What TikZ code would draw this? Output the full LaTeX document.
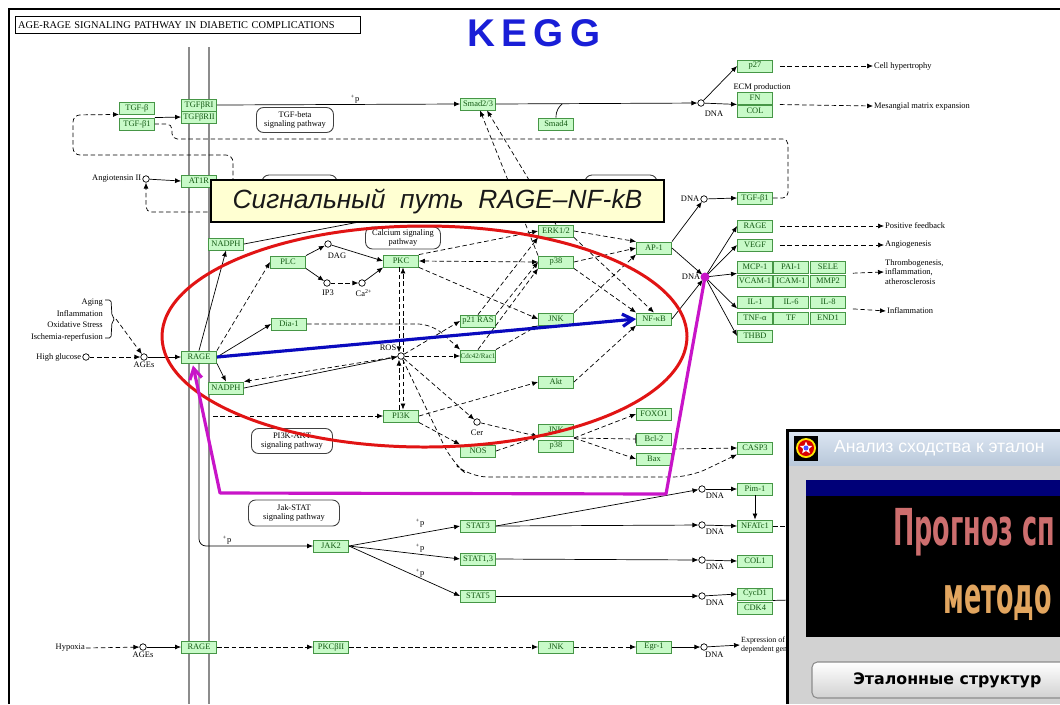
\documentclass[tikz,border=0pt]{standalone}
\usepackage{fontspec}
\setmainfont{Liberation Serif}
\newfontfamily\headfont{Liberation Sans}
\newfontfamily\winfont{DejaVu Sans}
\usetikzlibrary{arrows.meta,calc,shapes.geometric}

\definecolor{genegreen}{RGB}{70,150,70}
\definecolor{genefill}{RGB}{200,250,200}
\definecolor{genetext}{RGB}{20,90,20}
\definecolor{keggblue}{RGB}{25,30,215}
\definecolor{bannerfill}{RGB}{255,255,210}
\definecolor{ovalred}{RGB}{225,20,20}
\definecolor{pathblue}{RGB}{10,10,190}
\definecolor{pathmag}{RGB}{200,20,200}
\definecolor{winbody}{RGB}{210,210,210}
\definecolor{winnavy}{RGB}{0,0,120}
\definecolor{progred}{RGB}{205,110,110}
\definecolor{progold}{RGB}{225,165,95}

\newcommand{\keggfont}{\fontsize{4.8}{5.4}\selectfont}

\tikzset{
  gene/.style={draw=genegreen, fill=genefill, text=genetext, font=\keggfont, minimum width=0.7cm, minimum height=0.24cm, inner sep=0pt, line width=0.5pt},
  cpd/.style={circle, draw, fill=white, minimum size=0.13cm, inner sep=0pt, line width=0.4pt},
  lbl/.style={font=\keggfont, inner sep=0.5pt},
  pway/.style={draw=black!75, rounded corners=4pt, align=center, font=\keggfont, inner sep=1pt, line width=0.5pt},
  act/.style={-{Latex[length=3.4pt,width=2.8pt]}, line width=0.4pt},
  dact/.style={act, dash pattern=on 2.6pt off 1.6pt},
  bact/.style={{Latex[length=3.4pt,width=2.8pt]}-{Latex[length=3.4pt,width=2.8pt]}, line width=0.4pt, dash pattern=on 2.6pt off 1.6pt},
  dline/.style={line width=0.4pt, dash pattern=on 2.6pt off 1.6pt},
  inh/.style={-{Bar[width=5pt]}, line width=0.4pt, dash pattern=on 2.6pt off 1.6pt},
  membrane/.style={line width=1.7pt, draw=black!45},
}

\begin{document}
\begin{tikzpicture}[x=0.02cm, y=-0.02cm]
\clip (0,0) rectangle (1060,704);
\fill[white] (0,0) rectangle (1060,704);

% Frame, title
\draw[line width=1.2pt] (9,704) -- (9,9) -- (1060,9);
\node[draw, line width=0.7pt, text width=6.8cm, align=left, minimum height=0.34cm, inner sep=1.5pt, font=\fontsize{5.9}{6.5}\selectfont] (title) at (188,25) {AGE-RAGE SIGNALING PATHWAY IN DIABETIC COMPLICATIONS};
\node[font={\headfont\bfseries\fontsize{22}{24}\selectfont}, text=keggblue] (kegg) at (534,33) {K\,E\,G\,G};

% Membrane
\draw[membrane] (189,47) -- (189,704);
\draw[membrane] (209,47) -- (209,704);

% Pathway maps
\node[pway, minimum width=1.54cm, minimum height=0.5cm] (tgfpw) at (295,120) {TGF-beta\\signaling pathway};
\node[pway, minimum width=1.5cm, minimum height=0.44cm] (capw) at (403,238) {Calcium signaling\\pathway};
\node[pway, minimum width=1.62cm, minimum height=0.5cm] (pikpw) at (292,441) {PI3K-AKT\\signaling pathway};
\node[pway, minimum width=1.82cm, minimum height=0.52cm] (jakpw) at (294,513) {Jak-STAT\\signaling pathway};
\draw[draw=black!75, rounded corners=4pt, line width=0.5pt] (262,175) rectangle (337,205);
\draw[draw=black!75, rounded corners=4pt, line width=0.5pt] (585,175) rectangle (657,205);

% Genes
\foreach \gname/\gx/\gy/\gtext in {
  tgfb/137/108/TGF-β, tgfb1/137/124/TGF-β1, tgfbr1/199/105/TGFβRI, tgfbr2/199/117/TGFβRII,
  smad23/478/104/{Smad2/3}, smad4/556/124/Smad4, p27/755/66/p27, fn/755/98/FN, col/755/111/COL,
  at1r/199/181/AT1R, tgfb1r/755/198/TGF-β1, nadphA/226/244/NADPH, plc/288/262/PLC,
  pkc/401/261/PKC, erk/556/231/{ERK1/2}, ap1/654/248/AP-1, p38/556/262/p38,
  dia1/289/324/Dia-1, ras/478/321/p21 RAS, jnk/556/319/JNK, nfkb/654/319/NF-κB,
  rage/199/357/RAGE, nadphB/226/388/NADPH, akt/556/382/Akt, pi3k/401/416/PI3K,
  foxo1/654/414/FOXO1, bcl2/654/439/Bcl-2, bax/654/459/Bax, jnkB/556/430/JNK,
  p38B/556/446/p38, nos/478/451/NOS, casp3/755/448/CASP3, rageR/755/226/RAGE,
  vegf/755/245/VEGF, thbd/755/336/THBD, pim1/755/489/Pim-1, nfatc1/755/526/NFATc1,
  col1/755/561/COL1, cycd1/755/594/CycD1, cdk4/755/608/CDK4, jak2/331/546/JAK2,
  stat3/478/526/STAT3, stat13/478/559/{STAT1,3}, stat5/478/596/STAT5,
  rageC/199/647/RAGE, pkcb/331/647/PKCβII, jnkC/556/647/JNK, egr1/654/647/Egr-1} {
  \node[gene] (\gname) at (\gx,\gy) {\gtext};
}
\node[gene] (cdc42) at (478,356) {\fontsize{4}{4.5}\selectfont Cdc42/Rac1};
% Gene grid
\foreach \gname/\gx/\gy/\gtext in {
  mcp1/755/267/MCP-1, pai1/791/267/PAI-1, sele/828/267/SELE,
  vcam1/755/281/VCAM-1, icam1/791/281/ICAM-1, mmp2/828/281/MMP2,
  il1/755/302/IL-1, il6/791/302/IL-6, il8/828/302/IL-8,
  tnfa/755/318/TNF-α, tf/791/318/TF, end1/828/318/END1} {
  \node[gene] (\gname) at (\gx,\gy) {\gtext};
}

% Compounds
\foreach \gname/\gx/\gy in {angII/146/179, hglu/86/357, ages/144/357, dag/328/244, ip3/327/283,
  ca/362/283, ros/401/356, cer/477/422, dnaA/701/103, dnaB/704/199, dnaC/705/277,
  dnaD/702/489, dnaE/702/525, dnaF/702/560, dnaG/702/596, dnaH/704/647, agesB/143/647} {
  \node[cpd] (\gname) at (\gx,\gy) {};
}

% Labels
\node[lbl, left] (angl) at (angII.west) {Angiotensin II};
\node[lbl, left] (hgl) at (hglu.west) {High glucose};
\node[lbl, below] (agesl) at (ages.south) {AGEs};
\node[lbl, anchor=east] (hypl) at (86,648) {Hypoxia};
\node[lbl, below] (agesBl) at (agesB.south) {AGEs};
\node[lbl, anchor=east, align=right, font={\fontsize{4.8}{6.6}\selectfont}] (stress) at (104,320) {Aging\\Inflammation\\Oxidative Stress\\Ischemia-reperfusion};
\node[lbl] (dagl) at (337,256) {DAG};
\node[lbl] (ip3l) at (328,293) {IP3};
\node[lbl] (cal) at (364,293) {Ca\textsuperscript{2+}};
\node[lbl] (rosl) at (388,348) {ROS};
\node[lbl] (cerl) at (477,433) {Cer};
\node[lbl] (ecm) at (762,87) {ECM production};
\node[lbl] (dlA) at (714,114) {DNA};
\node[lbl, left] (dlB) at (dnaB.west) {DNA};
\node[lbl, left] (dlC) at (dnaC.west) {DNA};
\foreach \d in {D,E,F,G} {
  \node[lbl, anchor=north west] (dl\d) at (dna\d.south east) {DNA};
}
\node[lbl, anchor=north west] (dlH) at (dnaH.south) {DNA};
\node[lbl, anchor=west] (hyper) at (873,66) {Cell hypertrophy};
\node[lbl, anchor=west] (mesang) at (873,106) {Mesangial matrix expansion};
\node[lbl, anchor=west] (posfb) at (884,226) {Positive feedback};
\node[lbl, anchor=west] (angio) at (884,245) {Angiogenesis};
\node[lbl, anchor=west, align=left, font={\fontsize{4.8}{5.6}\selectfont}] (thromb) at (884,272) {Thrombogenesis,\\inflammation,\\atherosclerosis};
\node[lbl, anchor=west] (inflam) at (886,311) {Inflammation};
\node[lbl, anchor=west, align=left, font={\fontsize{4.5}{4.8}\selectfont}] (expr) at (740,645) {Expression of hypoxia-\\dependent genes};
\node[lbl] (pA) at (355,99) {\textsuperscript{+}p};
\node[lbl] (pB) at (227,540) {\textsuperscript{+}p};
\node[lbl] (pC) at (420,523) {\textsuperscript{+}p};
\node[lbl] (pD) at (420,548) {\textsuperscript{+}p};
\node[lbl] (pE) at (420,573) {\textsuperscript{+}p};

% TGF-beta branch
\draw[act] (tgfb1.north east) -- (tgfbr2.west);
\draw[act] (tgfbr1.east) -- (smad23.west);
\draw[act] (smad23.east) -- (dnaA);
\coordinate (smadj) at (562,104);
\draw[line width=0.4pt] (smad4.north) .. controls (556,110) and (559,107) .. (smadj);
\draw[act] (dnaA) -- (p27.west);
\draw[act] (dnaA) -- (fn.south west);
\draw[dact, shorten <=4pt] (p27.east) -- (hyper.west);
\draw[dact, shorten <=4pt] (fn.south east) -- (mesang.west);
\coordinate (loopA) at (233,190);
\draw[dact, rounded corners=4pt] (loopA) -- (233,155) -- (73,155) -- (73,115) -- (tgfb.south west);
\draw[dline, rounded corners=3pt] (tgfb1r.east) -- (788,198) -- (788,139) -- (172,139) -- (172,124) -- (tgfb1.east);
\coordinate (at1rB) at (215,212);
\draw[dact, rounded corners=3pt] (at1rB) -- (146,212) -- (angII.south);
\draw[act] (angII) -- (at1r.west);

% AGE-RAGE input
\draw[line width=0.4pt, rounded corners=1pt] (105,300) -- (111,300) -- (112,316) -- (115,319) -- (112,322) -- (111,338) -- (105,338);
\coordinate (brk) at (116,319);
\draw[dact] (hglu) -- (ages);
\draw[dact] (brk) -- (ages);
\draw[act] (ages) -- (rage.west);
\draw[act] (rage.north) -- (nadphA.south);
\draw[dact] (rage.north east) -- (plc.west);
\draw[act] (rage.east) -- (dia1.west);
\draw[act] (rage.south east) -- (nadphB.north);
\coordinate (nadphT) at (380,218);
\draw[line width=0.4pt] (nadphA.east) -- (nadphT);
\draw[dact] (ros) -- (nadphB.north east);
\draw[act] (nadphB.east) -- (ros);

% Calcium branch
\draw[act] (plc.north east) -- (dag);
\draw[act] (plc.south east) -- (ip3);
\draw[dact] (ip3) -- (ca);
\draw[act] (ca) -- (pkc.south west);
\draw[act] (dag) -- (pkc.west);

% ROS hub
\draw[dact] ($(pkc.south)+(-2,0)$) -- ($(ros.north)+(-2,0)$);
\draw[dact] ($(ros.north)+(2,0)$) -- ($(pkc.south)+(2,0)$);
\draw[dact] ($(pi3k.north)+(-2,0)$) -- ($(ros.south)+(-2,0)$);
\draw[dact] ($(ros.south)+(2,0)$) -- ($(pi3k.north)+(2,0)$);
\draw[dact] (ros) -- (ras.west);
\draw[dact] (ros) -- (cdc42.west);
\draw[dact] (ros) -- (cer);
\draw[dact, rounded corners=10pt] (ros) -- (452,462) -- (470,477) -- (690,477) -- (casp3.south west);
\draw[dact, rounded corners=8pt] (dia1.east) -- (432,324) -- (cdc42.north west);

% MAPK
\draw[dact] (pkc.north east) -- (erk.west);
\draw[bact] (pkc.east) -- (p38.west);
\draw[dact] (pkc.south east) -- (jnk.west);
\draw[dact] (ras.north) -- (erk.south west);
\draw[dact] (ras.north east) -- (p38.west);
\draw[dact] (cdc42.north) -- (p38.south west);
\draw[dact] (cdc42.north east) -- (jnk.south west);
\draw[dact] (p38.north west) -- ($(smad23.south)+(2,0)$);
\draw[dact] (erk.north) -- ($(smad23.south)+(9,0)$);
\draw[dact] (erk.east) -- (ap1.north west);
\draw[dact] (erk.south east) -- (nfkb.north);
\draw[dact] (p38.east) -- (ap1.west);
\draw[dact] (p38.south east) -- (nfkb.north west);
\draw[dact] (jnk.north east) -- (ap1.south west);

% PI3K and apoptosis
\coordinate (memb) at (213,416);
\draw[dact] (memb) -- (pi3k.west);
\draw[dact] (pi3k.east) -- (akt.west);
\draw[dact] (pi3k.south east) -- (nos.north west);
\draw[dact] (akt.east) -- (nfkb.south west);
\draw[dact] (cer) -- (jnkB.south west);
\draw[dact] (nos.east) -- (jnkB.south west);
\coordinate (fan) at ($(jnkB.south east)!0.5!(p38B.north east)$);
\draw[dact] (fan) -- (foxo1.west);
\draw[inh] (fan) -- (bcl2.west);
\draw[dact] (fan) -- (bax.west);
\draw[dact] ($(bcl2.south east)!0.5!(bax.north east)$) -- (casp3.west);

% Transcription
\draw[act] (ap1.north east) -- (dnaB);
\draw[act] (ap1.east) -- (dnaC);
\draw[act] (nfkb.east) -- (dnaC);
\draw[act] (dnaB) -- (tgfb1r.west);
\foreach \t in {rageR.west, vegf.west, mcp1.south west, il1.south west, thbd.west} {
  \draw[act] (dnaC) -- (\t);
}
\draw[dact, shorten <=4pt] (rageR.east) -- (posfb.west);
\draw[dact, shorten <=4pt] (vegf.east) -- (angio.west);
\draw[dact, shorten <=4pt] (sele.south east) -- (thromb.west);
\draw[dact, shorten <=4pt] (il8.south east) -- (inflam.west);

% JAK-STAT
\draw[act, rounded corners=4pt] (rage.south) |- (jak2.west);
\foreach \s in {stat3, stat13, stat5} {
  \draw[act] (jak2.east) -- (\s.west);
}
\draw[act] (stat3.east) -- (dnaD);
\draw[act] (stat3.east) -- (dnaE);
\draw[act] (stat13.east) -- (dnaF);
\draw[act] (stat5.east) -- (dnaG);
\draw[act] (dnaD) -- (pim1.west);
\draw[act] (dnaE) -- (nfatc1.west);
\draw[act] (dnaF) -- (col1.west);
\draw[act] (dnaG) -- (cycd1.west);
\draw[act] (pim1.south) -- (nfatc1.north);
\coordinate (nfo) at (790,526);
\draw[dline] (nfatc1.east) -- (nfo);
\coordinate (cyo) at (790,600);
\draw[line width=0.4pt] (cycd1.south east) -- (cyo);

% Hypoxia row
\draw[dact] (hypl.east) -- (agesB);
\draw[act] (agesB) -- (rageC.west);
\draw[dact] (rageC.east) -- (pkcb.west);
\draw[dact] (pkcb.east) -- (jnkC.west);
\draw[dact] (jnkC.east) -- (egr1.west);
\draw[act] (egr1.east) -- (dnaH);
\draw[act] (dnaH) -- (expr.west);

% Highlight: oval, RAGE -> NF-kB, feedback
\draw[ovalred, line width=1.7pt] (424.5,336.5) ellipse [x radius=262.5, y radius=110.5];
\draw[pathblue, line width=1.8pt, -{Straight Barb[length=6pt,width=7pt]}] (rage.east) -- (nfkb.west);
\coordinate (magA) at (666,494);
\coordinate (magB) at (220,493);
\draw[pathmag, line width=1.8pt, line join=round, -{Straight Barb[length=6pt,width=7pt]}] (dnaC) -- (magA) -- (magB) -- ($(rage.south)+(-6,2)$);
\fill[pathmag] (dnaC) circle (4.5);

% Banner
\node[draw, line width=0.9pt, fill=bannerfill, minimum width=9.06cm, minimum height=0.84cm, inner sep=0pt, text=black!90, font={\headfont\itshape\fontsize{15}{17}\selectfont}] (banner) at (437.5,201) {Сигнальный\ \ путь\ \ RAGE–NF-kB};

% Window screenshot
\fill[winbody] (788,431) rectangle (1060,704);
\shade[top color={rgb,255:red,220;green,230;blue,242}, bottom color={rgb,255:red,185;green,200;blue,218}] (788,431) rectangle (1060,465);
\draw[line width=1.7pt] (787,704) -- (787,430) -- (1060,430);
\fill[black] (794,436) rectangle (818,461);
\fill[yellow!90!orange] (806,448) circle (10);
\fill[red!85!black] (806,448) circle (8);
\node[star, star points=5, star point ratio=2.2, fill=white, minimum size=0.26cm, inner sep=0pt] (icostar) at (806,448) {};
\fill[blue!70] (806,448) circle (2.5);
\node[anchor=west, text=white, font={\headfont\fontsize{10}{11}\selectfont}] (wintitle) at (828,448) {Анализ сходства к эталон};
\fill[black] (806,480) rectangle (1060,637);
\fill[winnavy] (806,480) rectangle (1060,496);
\node[anchor=base west, inner sep=0pt, text=progred, font={\winfont\bfseries\fontsize{29}{30}\selectfont}] (prog) at (893,545) {\scalebox{0.5}[1]{Прогноз сп}};
\node[anchor=base west, inner sep=0pt, text=progold, font={\winfont\bfseries\fontsize{29}{30}\selectfont}] (meth) at (943,613) {\scalebox{0.5}[1]{методо}};
\shadedraw[top color=white, bottom color=black!18, draw=black!45, rounded corners=3pt, line width=0.6pt] (812,662) rectangle (1075,698);
\node[anchor=base west, inner sep=0pt, font={\winfont\bfseries\fontsize{9}{10}\selectfont}] (etal) at (853,684) {Эталонные структур};
\end{tikzpicture}
\end{document}
